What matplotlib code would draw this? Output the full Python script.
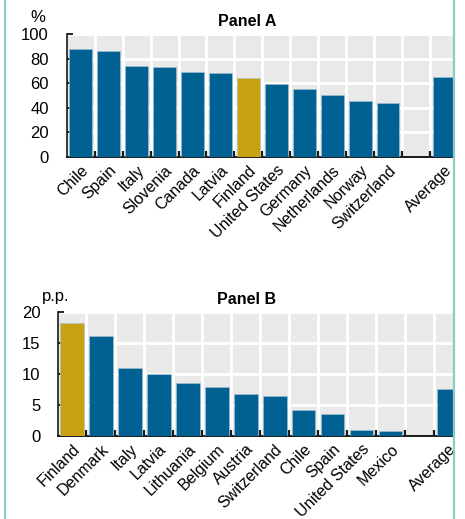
import numpy as np
import matplotlib
matplotlib.use("Agg")
from matplotlib import pyplot as plt
from matplotlib.lines import Line2D

plt.rcParams['font.family'] = ['Liberation Sans', 'DejaVu Sans']

# panel A data (%)
countries_a = ['Chile', 'Spain', 'Italy', 'Slovenia', 'Canada', 'Latvia', 'Finland',
               'United States', 'Germany', 'Netherlands', 'Norway', 'Switzerland', '', 'Average']
values_a = [87.4, 85.8, 74.2, 73.1, 68.8, 68.5, 64.0, 59.1, 55.6, 50.8, 45.4, 43.5, np.nan, 64.8]

# panel B data (p.p.)
countries_b = ['Finland', 'Denmark', 'Italy', 'Latvia', 'Lithuania', 'Belgium', 'Austria',
               'Switzerland', 'Chile', 'Spain', 'United States', 'Mexico', '', 'Average']
values_b = [18.3, 16.2, 10.9, 10.05, 8.5, 7.85, 6.8, 6.5, 4.2, 3.6, 1.0, 0.86, np.nan, 7.6]

blue = '#006192'
gold = '#c9a214'
bg = '#e9e9e9'
fs = 12


def draw_panel(ax, names, vals, ymax, step, xlim):
    x = np.arange(len(names))
    colors = [gold if n == 'Finland' else blue for n in names]
    ax.set_facecolor(bg)
    ax.bar(x, vals, width=0.81, color=colors, edgecolor='#a9c4d3', linewidth=0.4, zorder=3)
    ax.set_xlim(*xlim)
    ax.set_ylim(0, ymax)
    ax.set_yticks(np.arange(0, ymax + step, step))
    ax.set_xticks(x)
    ax.set_xticklabels(names, rotation=45, ha='right', rotation_mode='anchor', fontsize=11.5)
    ax.set_xticks(x[:-1] + 0.5, minor=True)
    ax.tick_params(axis='x', which='major', length=0, pad=4)
    ax.tick_params(axis='x', which='minor', direction='in', length=4, width=1.6, color='#1a1a1a')
    ax.tick_params(axis='y', direction='in', length=4, width=1.2, labelsize=fs, pad=13)
    ax.grid(axis='y', which='major', color='white', linewidth=2, zorder=1)
    ax.grid(axis='x', which='minor', color='white', linewidth=2, zorder=1)
    ax.set_axisbelow(True)
    for s in ['top', 'right']:
        ax.spines[s].set_visible(False)
    ax.spines['left'].set_linewidth(1.2)
    ax.spines['bottom'].set_linewidth(1.4)
    ax.spines['left'].set_color('#1a1a1a')
    ax.spines['bottom'].set_color('#1a1a1a')


fig = plt.figure(figsize=(4.65, 5.19), dpi=100)

ax1 = fig.add_axes([0.1441, 0.6975, 0.9742 - 0.1441, 0.9345 - 0.6975])
draw_panel(ax1, countries_a, values_a, 100, 20, (-0.49, 13.32))

ax2 = fig.add_axes([0.1254, 0.1599, 0.9742 - 0.1254, 0.3988 - 0.1599])
draw_panel(ax2, countries_b, values_b, 20, 5, (-0.47, 13.15))

fig.text(247 / 465, 1 - 21.5 / 519, 'Panel A', fontsize=11.5, fontweight='bold', ha='center', va='center')
fig.text(247 / 465, 1 - 300 / 519, 'Panel B', fontsize=11.5, fontweight='bold', ha='center', va='center')
fig.text(38 / 465, 1 - 18 / 519, '%', fontsize=fs, ha='center', va='center')
fig.text(56 / 465, 1 - 296 / 519, 'p.p.', fontsize=fs, ha='center', va='center')

# teal frame lines at the sides
for xp in [4.5 / 465, 454 / 465]:
    fig.add_artist(Line2D([xp, xp], [0, 1], transform=fig.transFigure, color='#8ecbc6', linewidth=1.6))

fig.savefig('out.png', dpi=100)
